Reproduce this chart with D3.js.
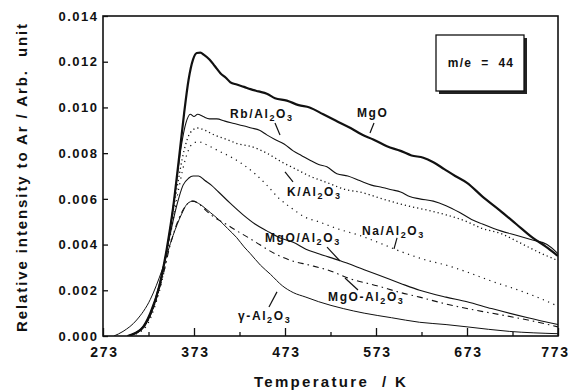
<!DOCTYPE html>
<html><head><meta charset="utf-8">
<script src="https://cdn.jsdelivr.net/npm/d3@7"></script>
<style>
html,body{margin:0;padding:0;background:#fff;}
text{font-family:"Liberation Sans",Arial,Helvetica,sans-serif;font-weight:bold;fill:#111;}
</style></head>
<body><svg id="chart" width="572" height="392"></svg>
<script>
// ---- data (temperature K, relative intensity) ----
const xTicks = [273,373,473,573,673,773];
const xMinorTicks = [323,423,523,623,723];
const yTicks = [0,0.002,0.004,0.006,0.008,0.010,0.012,0.014];

const mgo = [[300,0],[315,0.0003],[325,0.0010],[335,0.0022],[343,0.0038],[350,0.0056],[356,0.0076],[362,0.0097],[367,0.0112],[372,0.0121],[376,0.01238],[380,0.01240],[384,0.0123],[390,0.0121],[396,0.0118],[402,0.0115],[408,0.0113],[413,0.0111],[420,0.0110],[428,0.0109],[435,0.0108],[444,0.0107],[453,0.0106],[462,0.0104],[475,0.0103],[488,0.0101],[500,0.0100],[515,0.0097],[530,0.0094],[545,0.0091],[558,0.0088],[570,0.0086],[585,0.0083],[600,0.0081],[612,0.0079],[625,0.0078],[636,0.0076],[648,0.0073],[660,0.0070],[673,0.0067],[690,0.0061],[709,0.0055],[727,0.0049],[745,0.0043],[760,0.0039],[773,0.0035]];
const rb = [[302,0],[318,0.0004],[328,0.0012],[338,0.0027],[346,0.0045],[353,0.0065],[359,0.0083],[364,0.0093],[369,0.0097],[373,0.0096],[377,0.0097],[383,0.0096],[390,0.0095],[398,0.0095],[407,0.0094],[417,0.0093],[427,0.0092],[436,0.0091],[445,0.0090],[453,0.0088],[462,0.0086],[472,0.0084],[482,0.0081],[491,0.0079],[500,0.0077],[510,0.0075],[519,0.0074],[530,0.0071],[542,0.0070],[555,0.0068],[568,0.0066],[580,0.0065],[590,0.0064],[600,0.0063],[610,0.0061],[621,0.0060],[636,0.0059],[650,0.0057],[665,0.0054],[678,0.0051],[690,0.0049],[710,0.0046],[728,0.0044],[745,0.0042],[761,0.0040],[773,0.0036]];
const kAl = [[302,0],[318,0.0004],[328,0.0012],[338,0.0026],[346,0.0044],[354,0.0064],[362,0.0081],[369,0.0089],[377,0.0091],[385,0.0090],[395,0.0088],[409,0.0086],[422,0.0084],[435,0.0083],[453,0.0080],[470,0.0076],[485,0.0073],[500,0.0070],[520,0.0067],[540,0.0064],[555,0.0063],[580,0.0060],[607,0.0057],[630,0.0055],[650,0.0053],[673,0.0050],[690,0.0047],[709,0.0045],[730,0.0041],[750,0.0037],[773,0.0033]];
const naAl = [[303,0],[320,0.0004],[330,0.0013],[340,0.0028],[348,0.0046],[356,0.0064],[364,0.0078],[371,0.0084],[378,0.0085],[385,0.0084],[400,0.0081],[415,0.0078],[427,0.0075],[440,0.0071],[453,0.0066],[467,0.0060],[480,0.0056],[495,0.0052],[510,0.0050],[530,0.0047],[555,0.0044],[575,0.0041],[600,0.0037],[630,0.0033],[650,0.0031],[673,0.0028],[700,0.0024],[730,0.0020],[750,0.0017],[773,0.0013]];
const mgoOnAl = [[300,0],[317,0.0004],[327,0.0012],[337,0.0026],[346,0.0043],[354,0.0057],[361,0.0066],[367,0.0069],[372,0.0070],[378,0.0070],[385,0.0068],[392,0.0066],[400,0.0063],[413,0.0058],[427,0.0053],[440,0.0049],[453,0.0046],[467,0.0043],[482,0.0041],[496,0.0038],[510,0.0036],[533,0.0033],[560,0.0029],[580,0.0026],[600,0.0023],[621,0.0020],[650,0.0017],[673,0.0015],[700,0.0012],[740,0.0008],[773,0.0005]];
const mgoMixAl = [[300,0],[318,0.0004],[328,0.0012],[338,0.0025],[347,0.0040],[356,0.0051],[364,0.0057],[371,0.0059],[378,0.0058],[386,0.0055],[395,0.0052],[408,0.0049],[420,0.0046],[433,0.0043],[445,0.0040],[462,0.0036],[480,0.0033],[500,0.0031],[519,0.0029],[545,0.0025],[574,0.0022],[600,0.0019],[621,0.0017],[650,0.0014],[673,0.0012],[700,0.0010],[740,0.0007],[773,0.0004]];
const gammaAl = [[285,0],[295,0.0002],[310,0.0007],[325,0.0016],[338,0.0029],[350,0.0044],[359,0.0053],[366,0.0058],[372,0.0059],[378,0.0058],[385,0.0056],[391,0.0054],[400,0.0051],[410,0.0047],[420,0.0043],[428,0.0039],[435,0.0036],[446,0.0031],[457,0.0027],[470,0.0022],[482,0.0019],[496,0.0017],[510,0.0015],[537,0.0012],[560,0.0010],[590,0.0008],[621,0.0006],[650,0.0005],[673,0.0004],[720,0.0002],[773,0.0001]];

// label anchors in data units
const labelNames = ["MgO","Rb/Al|2|O|3","K/Al|2|O|3","Na/Al|2|O|3","MgO/Al|2|O|3","MgO-Al|2|O|3","γ-Al|2|O|3"];
const labelPos = [[552,0.00958],[412.6,0.00954],[475.2,0.00612],[557.6,0.00442],[451,0.00411],[520.3,0.00153],[421.4,0.0007]];
const leaders = [[[570.8,0.00932],[566.4,0.00888]],[[462,0.00932],[467.5,0.00879]],[[473,0.00718],[481.8,0.00674]],[[596.1,0.00429],[592.8,0.00381]],[[519.2,0.00389],[533.4,0.00328]],[[538.9,0.00254],[553.2,0.00201]],[[464.2,0.00193],[455.4,0.00127]]];

// ---- drawing ----
const svg = d3.select("#chart");
const L=103,R=558,T=16,B=336;
const x = d3.scaleLinear().domain([273,773]).range([L,R]);
const y = d3.scaleLinear().domain([0,0.014]).range([B,T]);

svg.append("defs").append("clipPath").attr("id","clip")
  .append("rect").attr("x",L).attr("y",T).attr("width",R-L).attr("height",B-T);

const line = d3.line().x(d=>x(d[0])).y(d=>y(d[1])).curve(d3.curveMonotoneX);
const series = [
  {d:mgo, w:2.2, dash:null},
  {d:rb, w:1.1, dash:null},
  {d:kAl, w:1.3, dash:"1.2,3"},
  {d:naAl, w:1.2, dash:"1.2,4.5"},
  {d:mgoOnAl, w:1.1, dash:null},
  {d:mgoMixAl, w:1.1, dash:"6,4,1.5,4"},
  {d:gammaAl, w:1.0, dash:null}
];
const g = svg.append("g").attr("clip-path","url(#clip)");
series.forEach(s=>{
  g.append("path").attr("d",line(s.d)).attr("fill","none")
   .attr("stroke","#111").attr("stroke-width",s.w)
   .attr("stroke-dasharray",s.dash).attr("stroke-linejoin","round");
});

// axes
const xAxis = d3.axisBottom(x).tickValues(xTicks).tickSizeInner(-8).tickSizeOuter(0).tickPadding(11).tickFormat(d3.format("d"));
const gx = svg.append("g").attr("transform",`translate(0,${B})`).call(xAxis);
const xMinor = d3.axisBottom(x).tickValues(xMinorTicks).tickSizeInner(-4).tickSizeOuter(0).tickFormat("");
const gxm = svg.append("g").attr("transform",`translate(0,${B})`).call(xMinor);
const yAxis = d3.axisLeft(y).tickValues(yTicks).tickSizeInner(-5).tickSizeOuter(0).tickPadding(6).tickFormat(d3.format(".3f"));
const gy = svg.append("g").attr("transform",`translate(${L},0)`).call(yAxis);
[gx,gxm,gy].forEach(a=>{a.select(".domain").remove(); a.selectAll("line").attr("stroke","#111").attr("stroke-width",1.3);});
gx.selectAll("text").attr("font-size",14).attr("letter-spacing","1.8px").attr("dx",d=>d===773?"-3px":"1px").attr("fill","#111");
gy.selectAll("text").attr("font-size",13).attr("letter-spacing","1.5px").attr("dx","1.5px").attr("fill","#111");

svg.append("rect").attr("x",L).attr("y",T).attr("width",R-L).attr("height",B-T)
  .attr("fill","none").attr("stroke","#111").attr("stroke-width",1.6);

// axis titles
svg.append("text").attr("x",331).attr("y",387).attr("text-anchor","middle")
  .attr("font-size",15).attr("letter-spacing","2.3px").style("white-space","pre").text("Temperature  / K");
svg.append("text").attr("transform","translate(27,177) rotate(-90)").attr("text-anchor","middle")
  .attr("font-size",15).attr("letter-spacing","1.9px").style("white-space","pre").text("Relative intensity to Ar / Arb.  unit");

// legend box
svg.append("rect").attr("x",439).attr("y",38).attr("width",88).attr("height",56).attr("fill","#222");
svg.append("rect").attr("x",436).attr("y",35).attr("width",88).attr("height",56).attr("fill","#fff").attr("stroke","#111").attr("stroke-width",1.3);
svg.append("text").attr("x",481).attr("y",67).attr("text-anchor","middle").attr("font-size",12)
  .attr("letter-spacing","1.2px").style("white-space","pre").text("m/e  =  44");

// curve labels
labelNames.forEach((name,i)=>{
  const parts = name.split("|");
  const t = svg.append("text").attr("x",x(labelPos[i][0])).attr("y",y(labelPos[i][1]))
    .attr("font-size",12).attr("letter-spacing","1.6px");
  parts.forEach((p,j)=>{
    if(j%2===1){ t.append("tspan").attr("font-size",9).attr("dy",3).text(p); }
    else { const ts=t.append("tspan").text(p); if(j>0) ts.attr("dy",-3); }
  });
  const ld = leaders[i];
  svg.append("line").attr("x1",x(ld[0][0])).attr("y1",y(ld[0][1])).attr("x2",x(ld[1][0])).attr("y2",y(ld[1][1]))
    .attr("stroke","#111").attr("stroke-width",1.2);
});
</script></body></html>
